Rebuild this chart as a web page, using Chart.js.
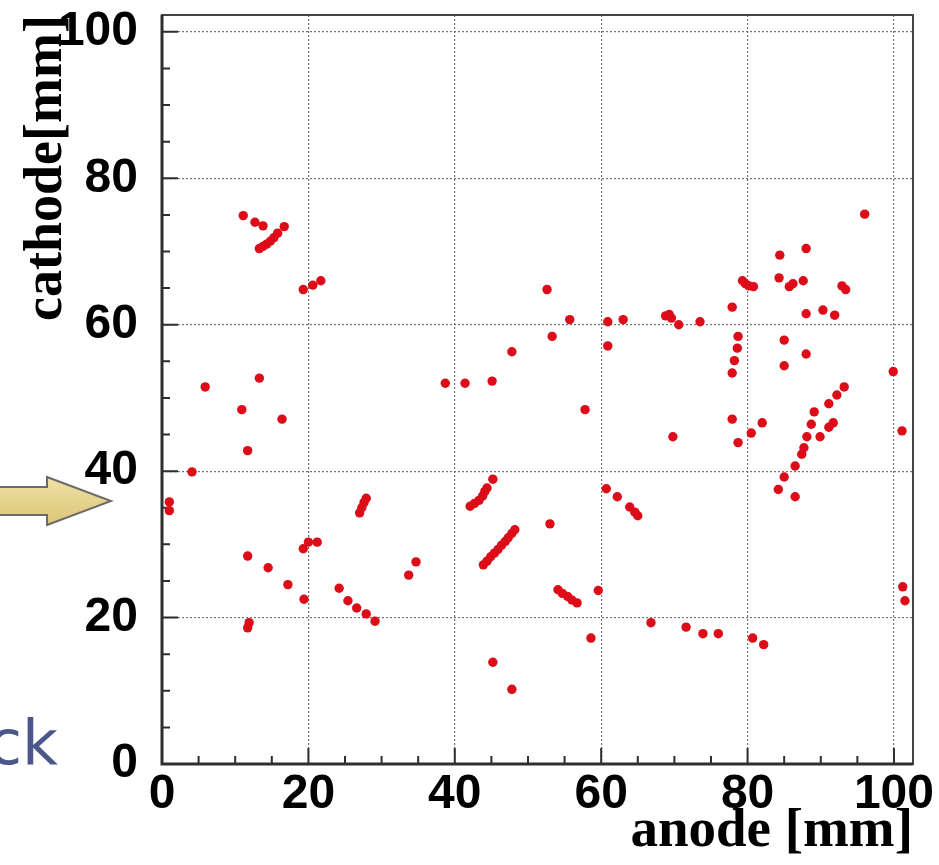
<!DOCTYPE html>
<html>
<head>
<meta charset="utf-8">
<script src="https://cdn.jsdelivr.net/npm/chart.js@4.4.1/dist/chart.umd.min.js"></script>
<style>
  html, body { margin: 0; padding: 0; background: #ffffff; }
  #wrap { position: relative; width: 939px; height: 865px; overflow: hidden; }
  #arrow { position: absolute; left: 0; top: 0; z-index: 0; }
  #ck { position: absolute; left: -20px; width: 78px; top: 712px; text-align: right;
        font-family: "DejaVu Sans", sans-serif; font-size: 62px; color: #4b5788; z-index: 0; line-height: 1; }
  #c { position: absolute; left: 0; top: 0; z-index: 1; }
</style>
</head>
<body>
<div id="wrap">
  <svg id="arrow" width="939" height="865">
    <defs>
      <linearGradient id="ag" x1="0" y1="0" x2="0" y2="1">
        <stop offset="0" stop-color="#efe2a6"/>
        <stop offset="1" stop-color="#dcc576"/>
      </linearGradient>
    </defs>
    <polygon points="-2,487 47,487 47,477 111,501 47,525 47,515 -2,515"
             fill="url(#ag)" stroke="#6b6b6b" stroke-width="2"/>
  </svg>
  <div id="ck">ck</div>
  <canvas id="c" width="939" height="865"></canvas>
</div>
<script>
// anode [mm] (x) and cathode [mm] (y) of each hit
const anodeX = [
  11.1, 12.7, 13.8, 16.7, 13.3, 13.8, 14.3, 14.8, 15.3, 15.8,
  19.3, 20.6, 21.7, 5.9, 13.3, 10.9, 16.4, 11.7, 4.1, 1.0,
  1.0, 27.0, 27.3, 27.6, 27.9, 11.7, 14.5, 17.2, 19.4, 19.3,
  20.0, 21.2, 11.9, 11.7, 24.2, 25.4, 26.6, 27.9, 29.1, 33.7,
  34.7, 38.7, 41.4, 45.1, 47.8, 52.6, 53.3, 45.2, 42.1, 42.7,
  43.3, 43.8, 44.1, 44.4, 43.9, 44.4, 44.9, 45.4, 45.9, 46.4,
  46.9, 47.3, 47.8, 48.2, 45.2, 47.8, 53.0, 55.7, 60.9, 63.0,
  68.8, 69.3, 69.6, 70.6, 73.5, 77.9, 60.9, 57.8, 69.8, 78.7,
  78.6, 78.2, 77.9, 77.9, 78.7, 60.7, 62.2, 63.9, 64.6, 65.0,
  54.1, 54.7, 55.4, 56.0, 56.7, 59.6, 58.6, 66.8, 71.6, 73.9,
  76.0, 96.0, 84.4, 88.0, 79.3, 79.7, 80.2, 80.8, 84.3, 85.7,
  86.2, 87.6, 92.9, 93.4, 88.0, 90.3, 91.9, 85.0, 88.0, 85.0,
  99.9, 82.0, 80.5, 101.1, 93.2, 92.2, 91.1, 89.1, 88.7, 88.1,
  87.7, 87.4, 86.5, 85.0, 84.2, 89.9, 91.1, 91.7, 86.5, 101.2,
  101.5, 80.7, 82.2
];
const cathodeY = [
  74.9, 74.0, 73.5, 73.4, 70.4, 70.7, 71.0, 71.4, 71.9, 72.5,
  64.8, 65.4, 66.0, 51.5, 52.7, 48.4, 47.1, 42.8, 39.9, 35.8,
  34.6, 34.3, 35.0, 35.7, 36.3, 28.4, 26.8, 24.5, 22.5, 29.4,
  30.3, 30.3, 19.3, 18.6, 24.0, 22.3, 21.3, 20.5, 19.5, 25.8,
  27.6, 52.0, 52.0, 52.3, 56.3, 64.8, 58.4, 38.9, 35.2, 35.6,
  36.0, 36.6, 37.2, 37.7, 27.2, 27.7, 28.3, 28.8, 29.3, 29.9,
  30.4, 30.9, 31.5, 32.0, 13.9, 10.2, 32.8, 60.7, 60.4, 60.7,
  61.2, 61.4, 60.9, 60.0, 60.4, 62.4, 57.1, 48.4, 44.7, 58.4,
  56.8, 55.1, 53.4, 47.1, 43.9, 37.6, 36.5, 35.1, 34.4, 33.9,
  23.8, 23.3, 22.9, 22.4, 22.0, 23.7, 17.2, 19.3, 18.7, 17.8,
  17.8, 75.1, 69.5, 70.4, 66.0, 65.6, 65.3, 65.2, 66.4, 65.2,
  65.6, 66.0, 65.3, 64.8, 61.5, 62.0, 61.3, 57.9, 56.0, 54.4,
  53.6, 46.6, 45.2, 45.5, 51.5, 50.4, 49.2, 48.1, 46.4, 44.7,
  43.2, 42.3, 40.7, 39.2, 37.5, 44.7, 46.0, 46.6, 36.5, 24.2,
  22.3, 17.2, 16.3
];
const tickLabels = ['0', '20', '40', '60', '80', '100'];
const xTitle = 'anode [mm]';
const yTitle = 'cathode[mm]';

const points = anodeX.map((v, i) => ({ x: v, y: cathodeY[i] }));

const isMajor = v => Math.abs(v % 20) < 1e-6;
const labelFor = v => isMajor(v) ? tickLabels[Math.round(v / 20)] : '';

const framePlugin = {
  id: 'frame',
  beforeDatasetsDraw(chart) {
    const { ctx, chartArea: a, scales: { x, y } } = chart;
    ctx.save();
    ctx.strokeStyle = '#444444';
    ctx.lineWidth = 2;
    ctx.strokeRect(a.left, a.top, a.right - a.left, a.bottom - a.top);
    ctx.strokeStyle = '#2e2e2e';
    ctx.lineWidth = 3;
    ctx.beginPath();
    ctx.moveTo(a.left, a.top);
    ctx.lineTo(a.left, a.bottom);
    ctx.lineTo(a.right, a.bottom);
    ctx.stroke();
    ctx.lineWidth = 2;
    ctx.beginPath();
    x.ticks.forEach(t => {
      const p = x.getPixelForValue(t.value);
      const L = isMajor(t.value) ? 16 : 8;
      ctx.moveTo(p, a.bottom);
      ctx.lineTo(p, a.bottom - L);
    });
    y.ticks.forEach(t => {
      const p = y.getPixelForValue(t.value);
      const L = isMajor(t.value) ? 16 : 8;
      ctx.moveTo(a.left, p);
      ctx.lineTo(a.left + L, p);
    });
    ctx.stroke();
    ctx.restore();
  }
};

const gridColor = c => isMajor(c.tick.value) ? 'rgba(100,100,100,0.9)' : 'rgba(0,0,0,0)';
const zeroPad = s => { s.paddingTop = 0; s.paddingBottom = 0; s.paddingLeft = 0; s.paddingRight = 0; };

new Chart(document.getElementById('c'), {
  type: 'scatter',
  data: {
    datasets: [{
      data: points,
      backgroundColor: '#dc0c18',
      borderWidth: 0,
      pointRadius: 4.7,
      pointHoverRadius: 4.7
    }]
  },
  options: {
    responsive: false,
    animation: false,
    layout: { padding: { left: 0, top: 15, right: 26, bottom: 0 } },
    plugins: { legend: { display: false }, tooltip: { enabled: false } },
    scales: {
      x: {
        type: 'linear',
        min: 0,
        max: 102.6,
        afterFit: s => { s.height = 101; zeroPad(s); },
        ticks: {
          stepSize: 5,
          includeBounds: false,
          autoSkip: false,
          maxRotation: 0,
          padding: 7,
          color: '#000000',
          font: { family: 'Liberation Sans', weight: 'bold', size: 48, lineHeight: 1 },
          callback: v => labelFor(v)
        },
        grid: { color: gridColor, lineWidth: 1.2, drawTicks: false },
        border: { display: false, dash: [2, 2] },
        title: {
          display: true,
          text: xTitle,
          align: 'end',
          color: '#000000',
          padding: { top: 0, bottom: 6 },
          font: { family: 'Liberation Serif', weight: 'bold', size: 55, lineHeight: 1 }
        }
      },
      y: {
        type: 'linear',
        min: 0,
        max: 102.3,
        afterFit: s => { s.width = 162; zeroPad(s); },
        ticks: {
          stepSize: 5,
          includeBounds: false,
          autoSkip: false,
          padding: 24,
          color: '#000000',
          font: { family: 'Liberation Sans', weight: 'bold', size: 48, lineHeight: 1 },
          callback: v => labelFor(v)
        },
        grid: { color: gridColor, lineWidth: 1.2, drawTicks: false },
        border: { display: false, dash: [2, 2] },
        title: {
          display: true,
          text: yTitle,
          align: 'end',
          color: '#000000',
          padding: { top: 20, bottom: 0 },
          font: { family: 'Liberation Serif', weight: 'bold', size: 54, lineHeight: 1 }
        }
      }
    }
  },
  plugins: [framePlugin]
});
</script>
</body>
</html>
